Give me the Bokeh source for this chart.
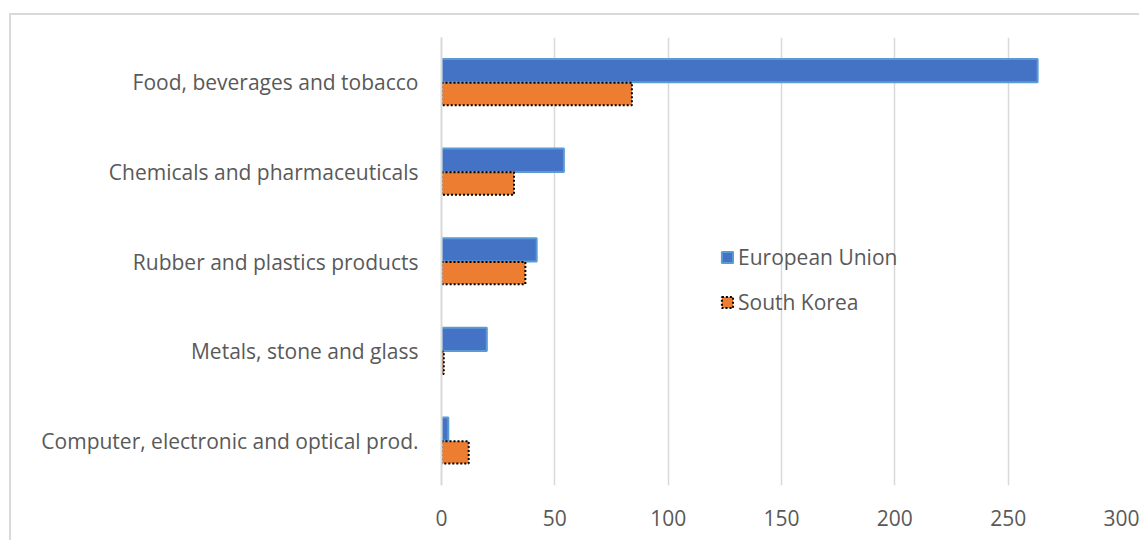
from bokeh.plotting import figure
from bokeh.models import FactorRange, Range1d, Legend, LegendItem, ColumnDataSource
from bokeh.transform import dodge
from bokeh.embed import file_html
from bokeh.resources import INLINE

categories = [
    "Food, beverages and tobacco",
    "Chemicals and pharmaceuticals",
    "Rubber and plastics products",
    "Metals, stone and glass",
    "Computer, electronic and optical prod.",
]
european_union = [263, 54, 42, 20, 3]
south_korea = [84, 32, 37, 1, 12]
x_ticks = [0, 50, 100, 150, 200, 250, 300]

FONT = "Open Sans"
TEXT = "#595959"
GRID = "#d9d9d9"
FS = "21px"

src = ColumnDataSource(dict(cat=categories, eu=european_union, sk=south_korea))

p = figure(
    y_range=FactorRange(*reversed(categories), range_padding=0),
    x_range=Range1d(0, 300),
    width=1130, height=527,
    output_backend="svg", toolbar_location=None,
    min_border_left=430, min_border_right=20,
    min_border_top=22, min_border_bottom=57,
)
p.styles = {"border-left": "2px solid #d9d9d9", "border-top": "2px solid #d9d9d9",
            "margin-left": "9px", "margin-top": "13px"}

r_eu = p.hbar(y=dodge("cat", 0.13, range=p.y_range), left=0, right="eu", height=0.26,
              fill_color="#4472C4", line_color="#5B9BD5", line_width=2, source=src)
r_sk = p.hbar(y=dodge("cat", -0.13, range=p.y_range), left=0, right="sk", height=0.25,
              fill_color="#ED7D31", line_color="black", line_width=2, line_dash="2 2",
              source=src)

p.outline_line_color = None
p.background_fill_color = "white"
p.border_fill_color = "white"

p.xaxis.ticker = x_ticks
p.xaxis.axis_line_color = None
p.xaxis.major_tick_line_color = None
p.xaxis.minor_tick_line_color = None
p.xaxis.major_label_standoff = 18
p.xaxis.major_label_text_font = FONT
p.xaxis.major_label_text_font_size = FS
p.xaxis.major_label_text_color = TEXT

p.yaxis.axis_line_color = GRID
p.yaxis.axis_line_width = 2
p.yaxis.major_tick_line_color = None
p.yaxis.minor_tick_line_color = None
p.yaxis.major_label_standoff = 17
p.yaxis.major_label_text_font = FONT
p.yaxis.major_label_text_font_size = FS
p.yaxis.major_label_text_color = TEXT

p.ygrid.grid_line_color = None
p.xgrid.ticker = x_ticks
p.xgrid.grid_line_color = GRID
p.xgrid.grid_line_width = 1.5

legend = Legend(
    items=[LegendItem(label="European Union", renderers=[r_eu]),
           LegendItem(label="South Korea", renderers=[r_sk])],
    location=(279, 169), orientation="vertical",
    padding=0, margin=0, spacing=17,
    glyph_width=14, glyph_height=14, label_height=26, label_standoff=4,
    border_line_color=None, background_fill_alpha=0,
    label_text_font=FONT, label_text_font_size=FS, label_text_color=TEXT,
)
p.add_layout(legend)

open("out.html", "w").write(file_html(p, INLINE))
